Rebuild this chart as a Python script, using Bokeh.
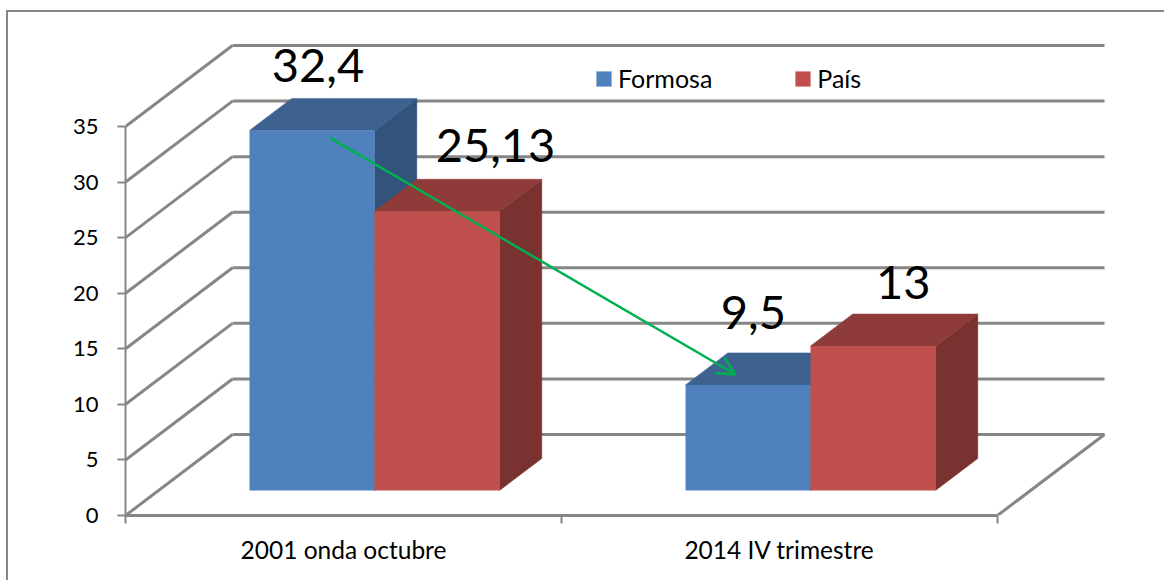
from bokeh.plotting import figure
from bokeh.models import Range1d, LinearAxis, FixedTicker, Arrow, OpenHead, Legend, LegendItem
from bokeh.core.properties import value
from bokeh.embed import file_html
from bokeh.resources import INLINE

categories = ["2001 onda octubre", "2014 IV trimestre"]
formosa = [32.4, 9.5]
pais = [25.13, 13]
formosa_labels = ["32,4", "9,5"]
pais_labels = ["25,13", "13"]
y_ticks = [0, 5, 10, 15, 20, 25, 30, 35]

FONT = "Lato"
GRID = "#868686"
BLUE = ("#4f81bd", "#3d628f", "#32547c")
RED = ("#c0504d", "#8e3b39", "#7a3230")

# layout: px per unit of each scale, depth vector of the 3D box
PX_CAT, PX_VAL = 436.0, 11.114
DX, DY = 107 / PX_CAT, 81 / PX_VAL
BAR_W = 125 / PX_CAT
BAR_LEFT = 91 / PX_CAT
D0, D1 = 25 / 81, 57 / 81


def proj(x, v, d):
    return x + d * DX, v + d * DY


p = figure(width=1164, height=580, output_backend="svg", toolbar_location=None,
           x_range=Range1d(0, 985 / PX_CAT), y_range=Range1d(0, 485 / PX_VAL),
           min_border_left=125, min_border_right=54, min_border_top=30, min_border_bottom=65,
           x_axis_type=None, y_axis_type=None, outline_line_color=None,
           background_fill_color=None, border_fill_color=None)
p.grid.visible = False

# outer chart frame: only its top and left edges fall on the page
p.styles = {
    "background-color": "white",
    "background-image": f"linear-gradient({GRID},{GRID}),linear-gradient({GRID},{GRID})",
    "background-size": "100% 2px, 2px 100%",
    "background-position": "6px 10px, 6px 10px",
    "background-repeat": "no-repeat",
}

# walls
xs, ys = [], []
for t in y_ticks:
    x0, y0 = proj(0, t, 0)
    x1, y1 = proj(0, t, 1)
    x2, y2 = proj(2, t, 1)
    xs.append([x0, x1]); ys.append([y0, y1])
    xs.append([x1, x2]); ys.append([y1, y2])
x0, y0 = proj(2, 0, 0)
x1, y1 = proj(2, 0, 1)
xs.append([x0, x1]); ys.append([y0, y1])
p.multi_line(xs, ys, line_color=GRID, line_width=3)


def bar(i, off, v, cols):
    left = i + BAR_LEFT + off * BAR_W
    right = left + BAR_W
    # side
    a = [proj(right, 0, D0), proj(right, 0, D1), proj(right, v, D1), proj(right, v, D0)]
    p.patch([q[0] for q in a], [q[1] for q in a], fill_color=cols[2], line_color=cols[2], line_width=0.5)
    # top
    a = [proj(left, v, D0), proj(left, v, D1), proj(right, v, D1), proj(right, v, D0)]
    p.patch([q[0] for q in a], [q[1] for q in a], fill_color=cols[1], line_color=cols[1], line_width=0.5)
    # front
    lx, by = proj(left, 0, D0)
    rx, ty = proj(right, v, D0)
    return p.quad(left=lx, right=rx, bottom=by, top=ty, fill_color=cols[0], line_color=None)


leg_r = []
for i in range(2):
    r1 = bar(i, 0, formosa[i], BLUE)
    r2 = bar(i, 1, pais[i], RED)
    if i == 0:
        leg_r = [r1, r2]

# axes
yax = LinearAxis(ticker=FixedTicker(ticks=y_ticks), bounds=(0, 35), axis_line_color=GRID, axis_line_width=2,
                 major_tick_line_color=GRID, major_tick_line_width=2, major_tick_out=8, major_tick_in=0,
                 minor_tick_out=0, minor_tick_in=0, major_label_standoff=19,
                 major_label_text_font=FONT, major_label_text_font_size="22px", major_label_text_color="black")
p.add_layout(yax, "left")
xax = LinearAxis(ticker=FixedTicker(ticks=[0.5, 1.5], minor_ticks=[0, 1, 2]), bounds=(0, 2),
                 major_label_overrides={0.5: categories[0], 1.5: categories[1]},
                 axis_line_color=GRID, axis_line_width=3, major_tick_out=0, major_tick_in=0,
                 minor_tick_line_color=GRID, minor_tick_line_width=2, minor_tick_out=8, minor_tick_in=0,
                 major_label_standoff=11, major_label_text_font=FONT, major_label_text_font_size="24.5px",
                 major_label_text_color="black")
p.add_layout(xax, "below")

# data labels (hand-placed in the source chart)
label_x = [0.4415, 1.440, 0.8486, 1.784]
label_y = [40.49, 18.27, 33.29, 20.96]
p.text(label_x, label_y, text=formosa_labels + pais_labels, text_font=value(FONT), text_font_size="47px",
       text_align="center", text_baseline="middle", text_color="black")

# green trend arrow
p.add_layout(Arrow(end=OpenHead(size=18, line_color="#00b050", line_width=2.5),
                   x_start=0.468, y_start=34.0, x_end=1.399, y_end=12.69,
                   line_color="#00b050", line_width=2.5))

legend = Legend(items=[LegendItem(label=value("Formosa"), renderers=[leg_r[0]]),
                       LegendItem(label=value("País"), renderers=[leg_r[1]])],
                orientation="horizontal", location=(469, 422), border_line_color=None,
                background_fill_alpha=0, glyph_width=19, glyph_height=19, label_standoff=5,
                spacing=81, padding=0, margin=0, label_text_font=FONT, label_text_font_size="25px",
                label_text_color="black", label_height=19)
p.add_layout(legend, "center")

open("out.html", "w").write(file_html(p, INLINE))
